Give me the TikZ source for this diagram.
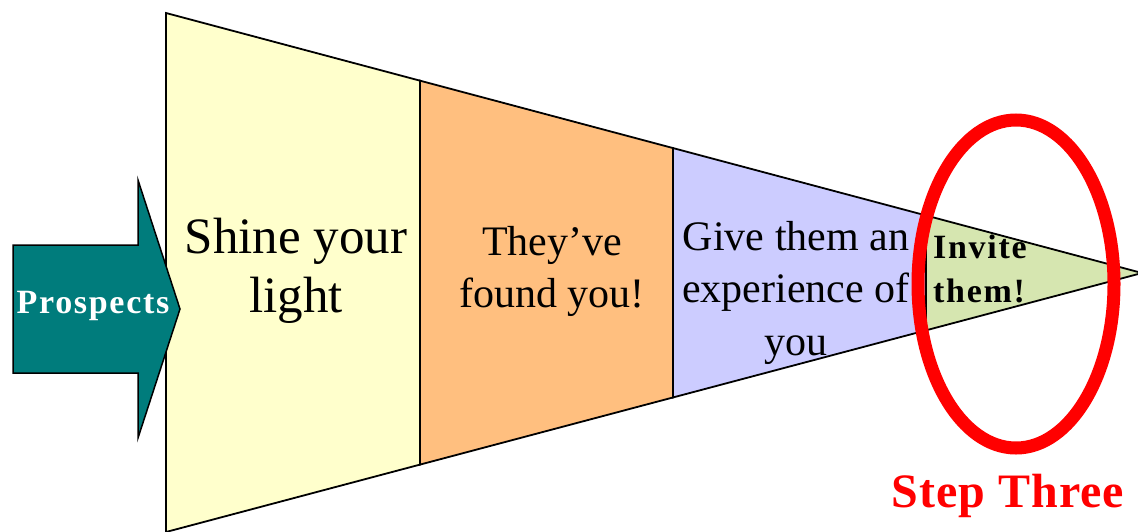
\documentclass[tikz,border=0pt]{standalone}
\usepackage{fontspec}
\setmainfont{Liberation Serif}
\newfontfamily\spacedfont[LetterSpace=5]{Liberation Serif}
\newfontfamily\stepfont[LetterSpace=2]{Liberation Serif}
\usetikzlibrary{calc}
\definecolor{segyellow}{RGB}{255,255,204}
\definecolor{segorange}{RGB}{255,191,127}
\definecolor{segpurple}{RGB}{204,204,255}
\definecolor{seggreen}{RGB}{214,230,176}
\definecolor{prospteal}{RGB}{0,124,124}
\definecolor{ringred}{RGB}{255,0,0}
\tikzset{
  segment/.style={draw=black, line width=1.8pt, line join=miter},
  bigtext/.style={anchor=base, inner sep=0pt, font=\fontsize{51}{60}\selectfont},
  midtext/.style={anchor=base, inner sep=0pt, font=\fontsize{42}{50}\selectfont},
  invitetext/.style={anchor=base west, inner sep=0pt, font=\spacedfont\fontsize{34}{40}\selectfont\bfseries},
  prosptext/.style={anchor=base, inner sep=0pt, text=white, font=\spacedfont\fontsize{34}{40}\selectfont\bfseries},
  steptext/.style={anchor=base, inner sep=0pt, text=ringred, font=\stepfont\fontsize{48}{56}\selectfont\bfseries},
  ring/.style={draw=ringred, line width=13pt},
  arrowshape/.style={draw=black, line width=1.5pt, fill=prospteal, line join=miter}
}
\begin{document}
\begin{tikzpicture}[x=1pt,y=-1pt]
\useasboundingbox (0,0) rectangle (1138,531);
\fill[white] (0,0) rectangle (1138,531);
% funnel geometry
\coordinate (T) at (166,13);
\coordinate (B) at (166,532);
\coordinate (A) at (1142,273);
\coordinate (T1) at ($(T)!0.2602!(A)$);
\coordinate (B1) at ($(B)!0.2602!(A)$);
\coordinate (T2) at ($(T)!0.5195!(A)$);
\coordinate (B2) at ($(B)!0.5195!(A)$);
\coordinate (T3) at ($(T)!0.7787!(A)$);
\coordinate (B3) at ($(B)!0.7787!(A)$);
% segments
\draw[segment, fill=segyellow] (T) -- (T1) -- (B1) -- (B) -- cycle;
\draw[segment, fill=segorange] (T1) -- (T2) -- (B2) -- (B1) -- cycle;
\draw[segment, fill=segpurple] (T2) -- (T3) -- (B3) -- (B2) -- cycle;
% texts
\node[bigtext] (shine1) at (296,253) {Shine your};
\node[bigtext] (shine2) at (296,312) {light};
\node[midtext] (found1) at (552,255) {They’ve};
\node[midtext] (found2) at (552,307) {found you!};
\node[midtext] (give1) at (796,250) {Give them an};
\node[midtext] (give2) at (796,302) {experience of};
\node[midtext] (give3) at (796,355) {you};
% last segment
\draw[segment, fill=seggreen] (T3) -- (A) -- (B3) -- cycle;
\node[invitetext] (invite1) at (933,258) {Invite};
\node[invitetext] (invite2) at (933,302) {them!};
% arrow
\draw[arrowshape] (13,245) -- (138,245) -- (138,180) -- (180,309) -- (138,438) -- (138,373) -- (13,373) -- cycle;
\node[prosptext] (prospects) at (93,313) {Prospects};
% ring
\draw[ring] (1016,284) ellipse [x radius=98pt, y radius=164pt];
\node[steptext] (step) at (1008,507) {Step Three};
\end{tikzpicture}
\end{document}
